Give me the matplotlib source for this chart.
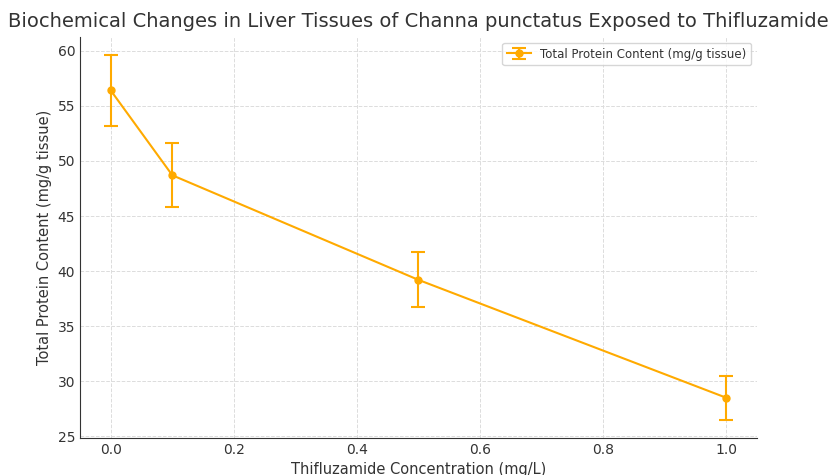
import matplotlib
matplotlib.use("Agg")
import matplotlib.pyplot as plt

# Thifluzamide exposure vs total protein content
concentration = [0.0, 0.1, 0.5, 1.0]
protein = [56.4, 48.7, 39.2, 28.5]
protein_err = [3.2, 2.9, 2.5, 2.0]

color = '#FFAA00'
text_color = '#333333'

fig = plt.figure(figsize=(8.29, 4.75), dpi=100)
ax = fig.add_axes([80 / 829, 1 - 438 / 475, 677 / 829, 401 / 475])

ax.errorbar(concentration, protein, yerr=protein_err, fmt='-o', color=color,
            capsize=5, markersize=5, linewidth=1.5, elinewidth=1.5, capthick=1.5,
            label='Total Protein Content (mg/g tissue)')

ax.set_title('Biochemical Changes in Liver Tissues of Channa punctatus Exposed to Thifluzamide',
             fontsize=14, color=text_color, pad=7)
ax.set_xlabel('Thifluzamide Concentration (mg/L)', fontsize=10.5, color=text_color)
ax.set_ylabel('Total Protein Content (mg/g tissue)', fontsize=10.5, color=text_color)

ax.set_yticks([25, 30, 35, 40, 45, 50, 55, 60])
ax.grid(True, linestyle='--', color='#dcdcdc', linewidth=0.7)
ax.tick_params(colors=text_color, labelsize=10, length=0)
for s in ['top', 'right']:
    ax.spines[s].set_visible(False)
for s in ['left', 'bottom']:
    ax.spines[s].set_color('#333333')

leg = ax.legend(loc='upper right', fontsize=8.5, frameon=True)
for t in leg.get_texts():
    t.set_color(text_color)

fig.savefig('out.png', dpi=100)
